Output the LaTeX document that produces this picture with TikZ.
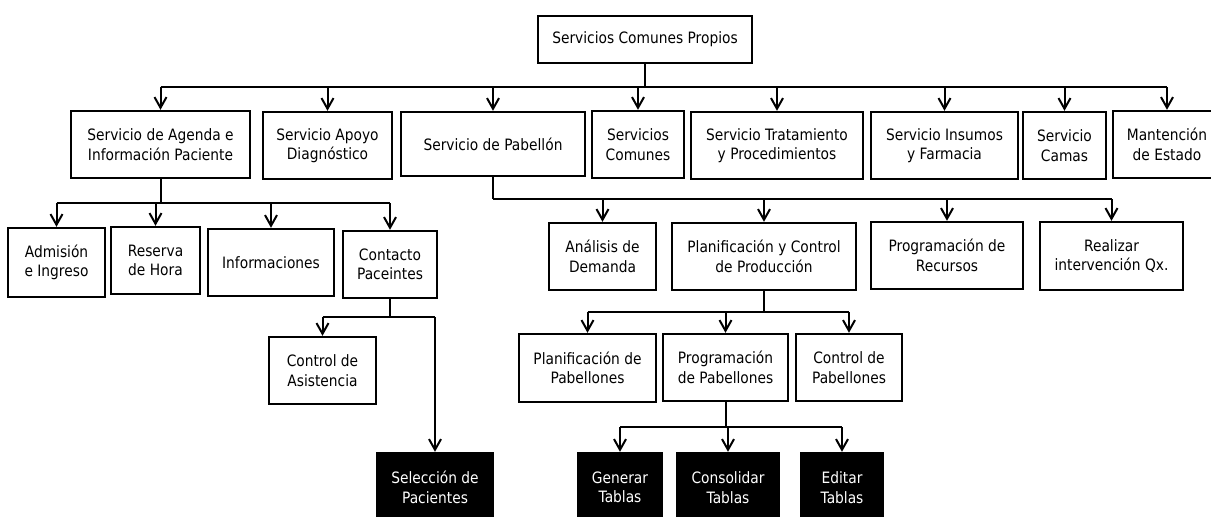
\documentclass[tikz,border=0pt]{standalone}
\usepackage{fontspec}
\setmainfont{DejaVu Sans}[FakeStretch=0.88]
\usetikzlibrary{arrows.meta}
\begin{document}
\begin{tikzpicture}[x=0.75pt,y=-0.75pt,
  every node/.style={font=\fontsize{11.75pt}{14.6pt}\selectfont, align=center, inner sep=0pt},
  wbox/.style 2 args={draw=black, fill=white, line width=1.8pt, minimum width=#1*0.75pt, minimum height=#2*0.75pt},
  kbox/.style 2 args={draw=black, fill=black, text=white, line width=1.8pt, minimum width=#1*0.75pt, minimum height=#2*0.75pt},
  ln/.style={line width=1.5pt},
  arr/.style={line width=1.5pt, -{Straight Barb[length=8pt,width=9pt]}}]
% page and clipping frame
\fill[white] (0,0) rectangle (1211,517);
\clip (0,0) rectangle (1211,517);

% root
\node[wbox={214}{47}] (root) at (645,39.5) {Servicios Comunes Propios};

% first level
\node[wbox={179}{67}] (agenda) at (160.5,144.5) {Servicio de Agenda e\\Información Paciente};
\node[wbox={129}{67}] (apoyo) at (327.5,145.5) {Servicio Apoyo\\Diagnóstico};
\node[wbox={184}{64}] (pab) at (493,144) {Servicio de Pabellón};
\node[wbox={92}{67}] (comunes) at (638,144.5) {Servicios\\Comunes};
\node[wbox={172}{67}] (trat) at (777,145.5) {Servicio Tratamiento\\y Procedimientos};
\node[wbox={147}{67}] (insumos) at (944.5,145.5) {Servicio Insumos\\y Farmacia};
\node[wbox={83}{67}] (camas) at (1064.5,145.5) {Servicio\\Camas};
\node[wbox={108}{67}] (mant) at (1167,144.5) {Mantención\\de Estado};

% agenda branch
\node[wbox={97}{69}] (admision) at (56.5,262.5) {Admisión\\e Ingreso};
\node[wbox={89}{67}] (reserva) at (155.5,260.5) {Reserva\\de Hora};
\node[wbox={126}{67}] (info) at (271,262.5) {Informaciones};
\node[wbox={94}{67}] (contacto) at (390,264.5) {Contacto\\Paceintes};
\node[wbox={107}{67}] (asist) at (322.5,370.5) {Control de\\Asistencia};
\node[kbox={116}{69}] (selec) at (435,487.5) {Selección de\\Pacientes};

% pabellon branch
\node[wbox={107}{67}] (analisis) at (602.5,256.5) {Análisis de\\Demanda};
\node[wbox={184}{67}] (pcp) at (764,256.5) {Planificación y Control\\de Producción};
\node[wbox={152}{67}] (progrec) at (947,255.5) {Programación de\\Recursos};
\node[wbox={143}{68}] (realizar) at (1111.5,256) {Realizar\\intervención Qx.};

\node[wbox={137}{68}] (planpab) at (587.5,368) {Planificación de\\Pabellones};
\node[wbox={125}{67}] (progpab) at (725.5,367.5) {Programación\\de Pabellones};
\node[wbox={106}{67}] (ctrlpab) at (849,367.5) {Control de\\Pabellones};

\node[kbox={84}{69}] (generar) at (620,487.5) {Generar\\Tablas};
\node[kbox={102}{69}] (consol) at (728,487.5) {Consolidar\\Tablas};
\node[kbox={82}{69}] (editar) at (842,487.5) {Editar\\Tablas};

% bus levels
\coordinate (b0) at (645,87);
\coordinate (b1) at (160.5,203);
\coordinate (b2) at (390,317);
\coordinate (b3) at (493,199);
\coordinate (b4) at (764,312);
\coordinate (b5) at (725.5,427);

% root -> first level
\draw[ln] (root) -- (b0);
\draw[ln] (agenda |- b0) -- (mant |- b0);
\foreach \n in {agenda,apoyo,pab,comunes,trat,insumos,camas,mant}
  \draw[arr] (\n |- b0) -- (\n);

% agenda -> children
\draw[ln] (agenda) -- (b1);
\draw[ln] (admision |- b1) -- (contacto |- b1);
\foreach \n in {admision,reserva,info,contacto}
  \draw[arr] (\n |- b1) -- (\n);

% contacto -> children
\draw[ln] (contacto) -- (b2);
\draw[ln] (asist |- b2) -- (selec |- b2);
\foreach \n in {asist,selec}
  \draw[arr] (\n |- b2) -- (\n);

% pabellon -> children
\draw[ln] (pab) -- (b3);
\draw[ln] (b3) -- (realizar |- b3);
\foreach \n in {analisis,pcp,progrec,realizar}
  \draw[arr] (\n |- b3) -- (\n);

% planificacion y control -> children
\draw[ln] (pcp) -- (b4);
\draw[ln] (planpab |- b4) -- (ctrlpab |- b4);
\foreach \n in {planpab,progpab,ctrlpab}
  \draw[arr] (\n |- b4) -- (\n);

% programacion de pabellones -> children
\draw[ln] (progpab) -- (b5);
\draw[ln] (generar |- b5) -- (editar |- b5);
\foreach \n in {generar,consol,editar}
  \draw[arr] (\n |- b5) -- (\n);
\end{tikzpicture}
\end{document}
